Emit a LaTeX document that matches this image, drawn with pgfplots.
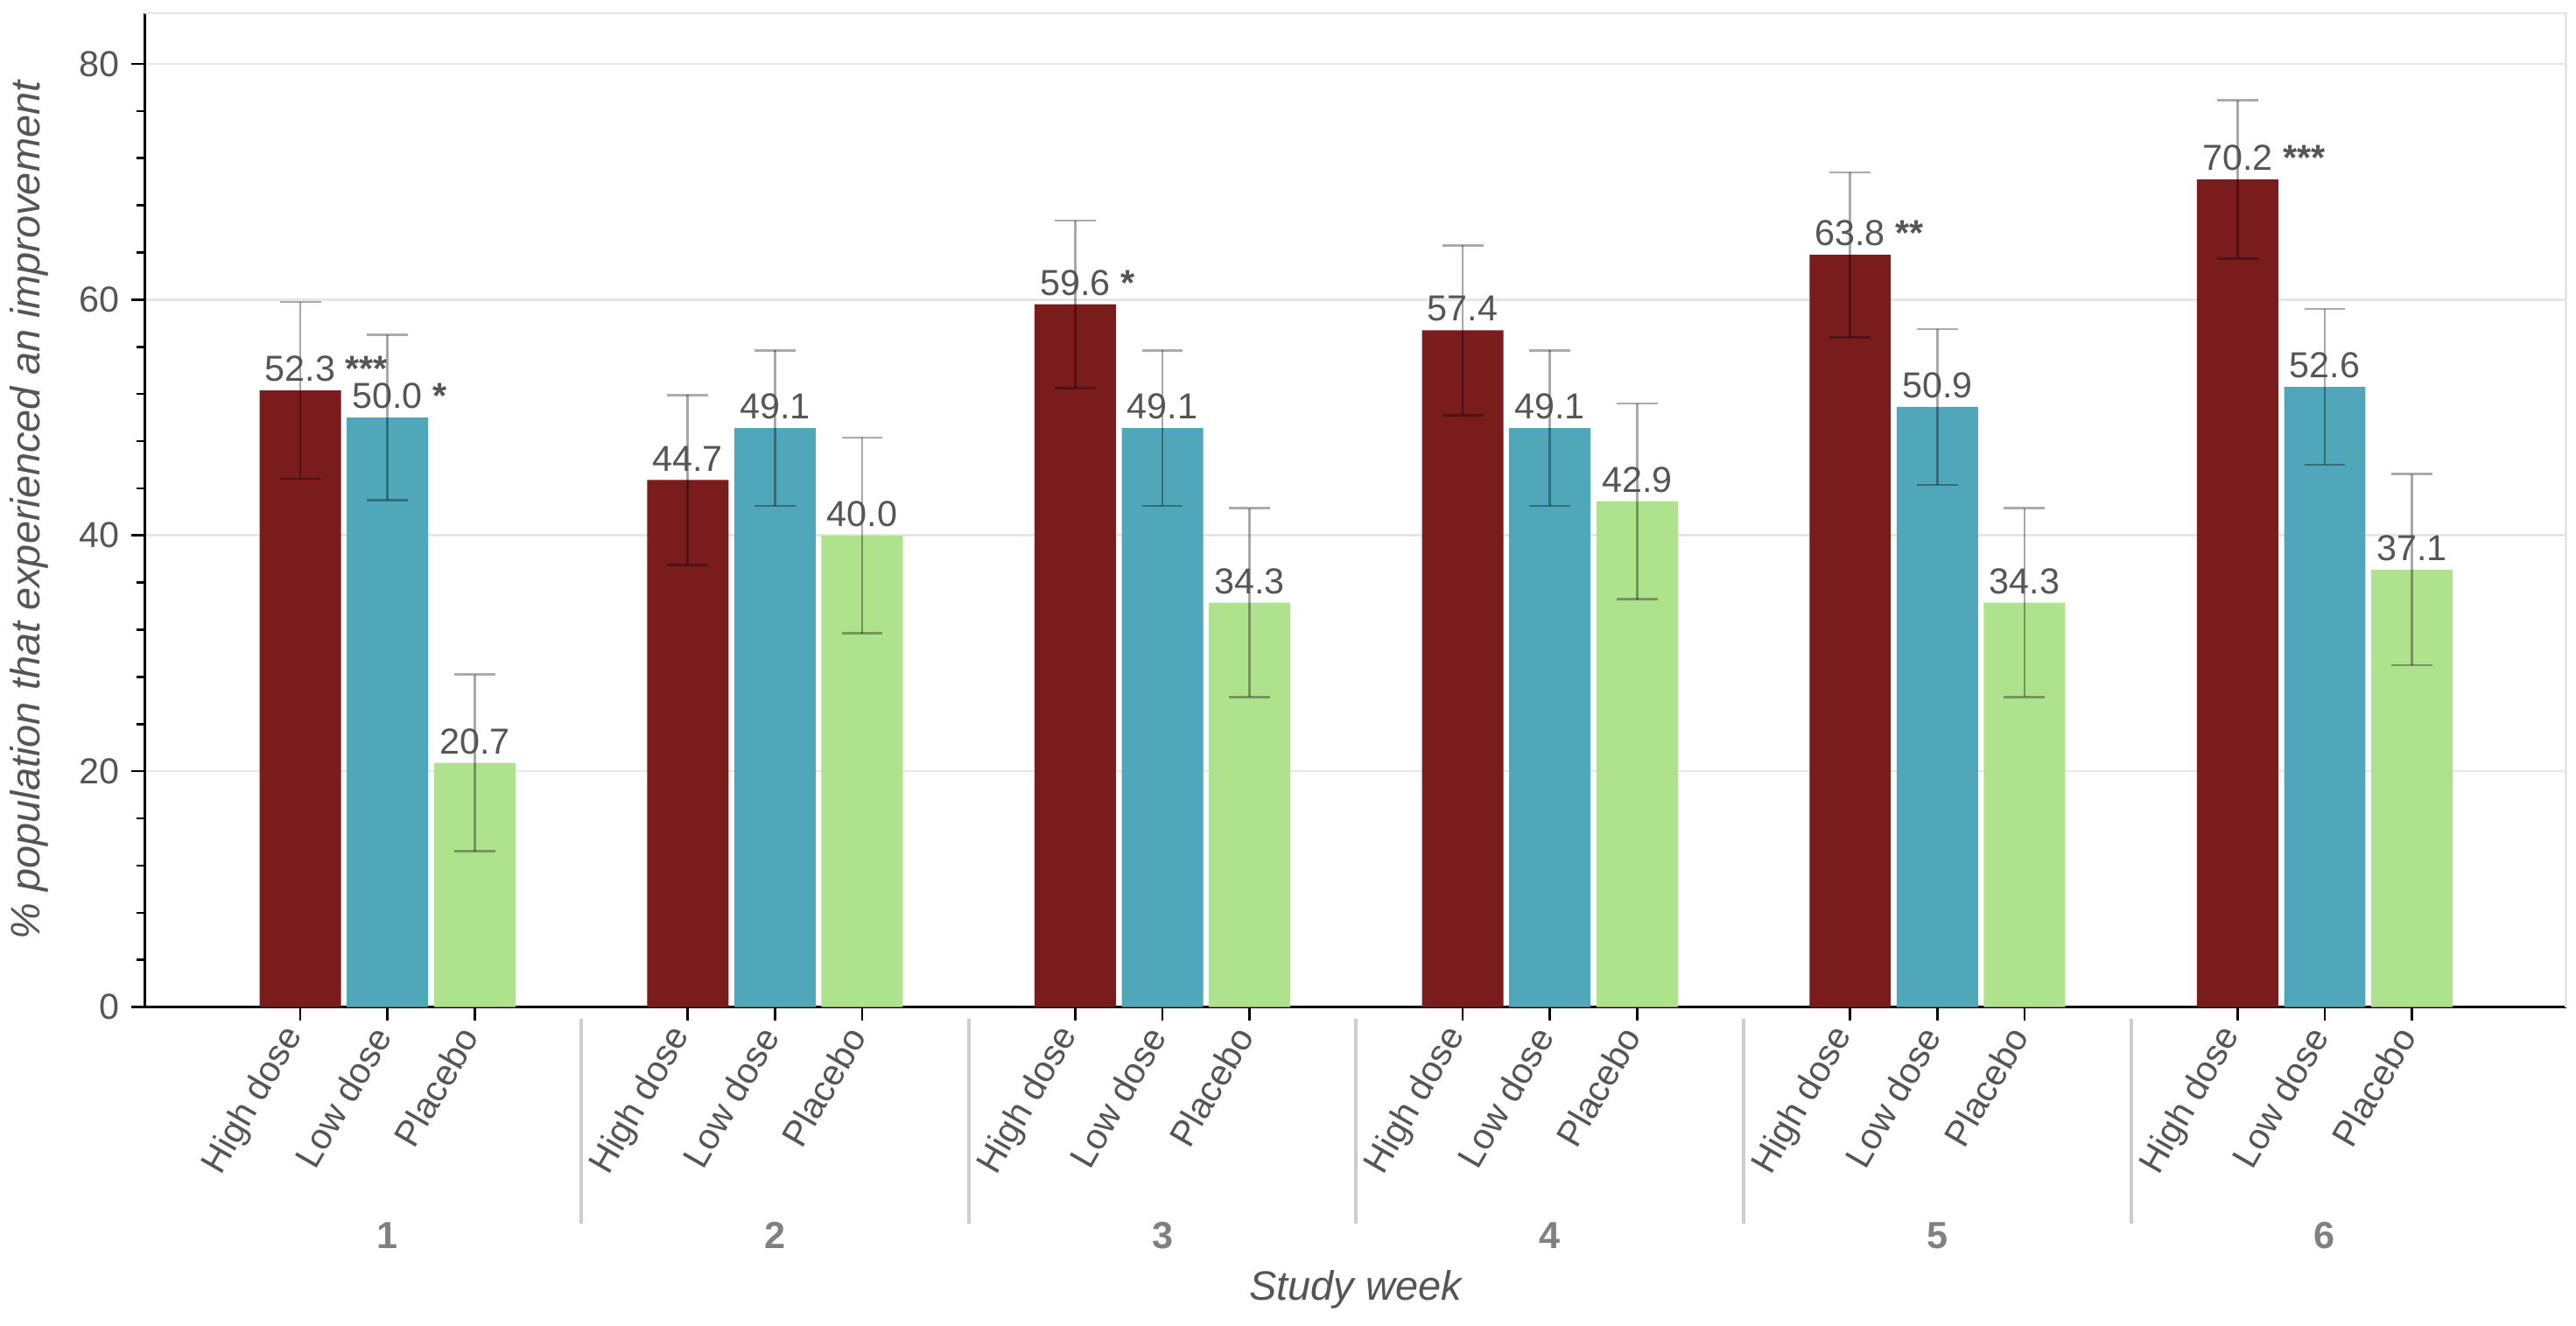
\documentclass[border=0pt]{standalone}
\usepackage{pgfplots}
\pgfplotsset{compat=1.18}
\usepackage{pgfplotstable}
\usepackage{fontspec}
\setmainfont{Liberation Sans}
\definecolor{highred}{RGB}{123,28,28}
\definecolor{lowteal}{RGB}{79,167,185}
\definecolor{placgreen}{RGB}{174,226,141}
\definecolor{txtgray}{RGB}{85,85,85}
\definecolor{numgray}{RGB}{128,128,128}
\definecolor{gridgray}{RGB}{230,230,230}
\definecolor{sepgray}{RGB}{205,205,205}
\newcommand\st[1]{\rlap{\ \textbf{#1}}}

\pgfplotstableread{
x y e lab
0.775 52.3 7.5 {52.3\st{***}}
1.775 44.7 7.2 44.7
2.775 59.6 7.1 {59.6\st{*}}
3.775 57.4 7.2 57.4
4.775 63.8 7.0 {63.8\st{**}}
5.775 70.2 6.7 {70.2\st{***}}
}\high
\pgfplotstableread{
x y e lab
1 50.0 7.0 {50.0\st{*}}
2 49.1 6.6 49.1
3 49.1 6.6 49.1
4 49.1 6.6 49.1
5 50.9 6.6 50.9
6 52.6 6.6 52.6
}\low
\pgfplotstableread{
x y e lab
1.225 20.7 7.5 20.7
2.225 40.0 8.3 40.0
3.225 34.3 8.0 34.3
4.225 42.9 8.3 42.9
5.225 34.3 8.0 34.3
6.225 37.1 8.1 37.1
}\plac

\begin{document}
\begin{tikzpicture}
\begin{axis}[
  scale only axis,
  width=737pt, height=302.5pt,
  xmin=0.373, xmax=6.623,
  ymin=0, ymax=84.3,
  axis lines*=left,
  axis line style={black, line width=0.8pt},
  tick align=outside,
  major tick length=4pt, minor tick length=2.5pt,
  every tick/.style={black, line width=0.7pt},
  ytick={0,20,40,60,80},
  minor y tick num=4,
  ymajorgrids,
  major grid style={gridgray, line width=0.7pt},
  /pgf/number format/assume math mode=true,
  yticklabel style={font=\fontsize{11}{13}\selectfont, text=txtgray},
  xtick={0.775,1,1.225,1.775,2,2.225,2.775,3,3.225,3.775,4,4.225,4.775,5,5.225,5.775,6,6.225},
  xticklabels={High dose,Low dose,Placebo,High dose,Low dose,Placebo,High dose,Low dose,Placebo,High dose,Low dose,Placebo,High dose,Low dose,Placebo,High dose,Low dose,Placebo},
  xticklabel style={font=\fontsize{11}{13}\selectfont, text=txtgray, rotate=60, anchor=east},
  xlabel={\itshape Study week},
  xlabel style={at={(axis description cs:0.5,-0.2843)}, anchor=center, font=\fontsize{12.5}{14}\selectfont, text=txtgray},
  ylabel={\itshape \% population that experienced an improvement},
  ylabel style={at={(axis description cs:-0.0475,0.5)}, anchor=center, font=\fontsize{12.5}{14}\selectfont, text=txtgray},
  clip=false,
  nodes near coords={\pgfplotspointmeta},
  point meta=explicit symbolic,
  every node near coord/.style={font=\fontsize{11}{13}\selectfont, text=txtgray, anchor=south, inner sep=2.5pt},
  error bars/y dir=both,
  error bars/y explicit,
  error bars/error bar style={black, opacity=0.33, line width=0.7pt},
  error bars/error mark options={rotate=90, black, opacity=0.33, mark size=6.25pt, line width=0.7pt},
]
\addplot[ybar, bar shift=0pt, bar width=0.21, fill=highred, draw=none] table[x=x, y=y, y error=e, meta=lab]{\high};
\addplot[ybar, bar shift=0pt, bar width=0.21, fill=lowteal, draw=none] table[x=x, y=y, y error=e, meta=lab]{\low};
\addplot[ybar, bar shift=0pt, bar width=0.21, fill=placgreen, draw=none] table[x=x, y=y, y error=e, meta=lab]{\plac};
\draw[gridgray, line width=0.7pt] (rel axis cs:0,1) -- (rel axis cs:1,1) -- (rel axis cs:1,0);
\pgfplotsinvokeforeach{1.5,2.5,3.5,4.5,5.5}{
  \draw[sepgray, line width=1pt] ([yshift=-3.5pt]axis cs:#1,0) -- ([yshift=-66pt]axis cs:#1,0);
}
\pgfplotsinvokeforeach{1,...,6}{
  \node[font=\fontsize{11.5}{13}\selectfont\bfseries, text=numgray, anchor=center] at ([yshift=-69.5pt]axis cs:#1,0) {#1};
}
\end{axis}
\pgfresetboundingbox
\path[use as bounding box] ([shift={(-44pt,-97pt)}]current axis.south west) rectangle ([shift={(3pt,4pt)}]current axis.north east);
\end{tikzpicture}
\end{document}
